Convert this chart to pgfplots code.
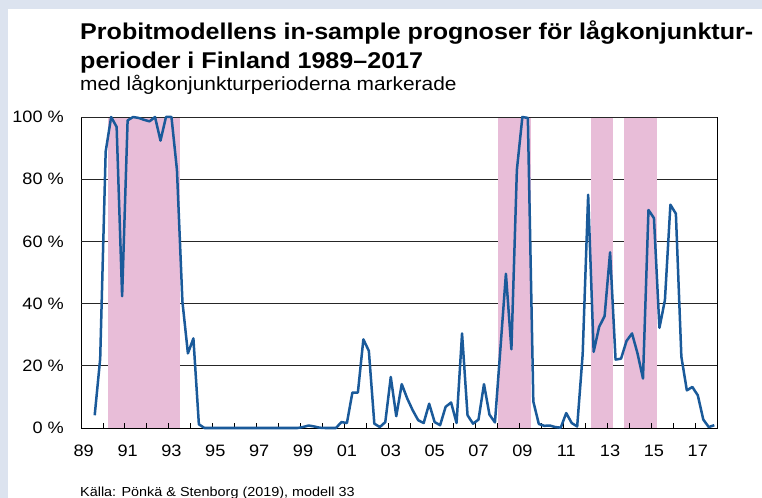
\documentclass[border=0pt]{standalone}
\usepackage{fontspec}
\setmainfont{Liberation Sans}[FakeStretch=1.1]
\usepackage{pgfplots}
\pgfplotsset{compat=1.18}
\definecolor{bgblue}{HTML}{DCE3EF}
\definecolor{regpink}{HTML}{E8BDD8}
\definecolor{lineblue}{HTML}{1A5A9A}
\begin{document}
\begin{tikzpicture}
\path[use as bounding box] (0bp,0bp) rectangle (762bp,498bp);
\fill[bgblue] (0bp,0bp) rectangle (762bp,498bp);
\fill[white] (8bp,0bp) rectangle (762bp,489bp);
\node[anchor=base west,inner sep=0pt,font=\fontsize{22.8bp}{28bp}\selectfont\bfseries] at (80bp,458.7bp) {Probitmodellens in-sample prognoser för lågkonjunktur-};
\node[anchor=base west,inner sep=0pt,font=\fontsize{22.8bp}{28bp}\selectfont\bfseries] at (80bp,429.7bp) {perioder i Finland 1989–2017};
\node[anchor=base west,inner sep=0pt,font=\fontsize{19bp}{23bp}\selectfont] at (80bp,407.3bp) {med lågkonjunkturperioderna markerade};
\node[anchor=base west,inner sep=0pt,font=\fontsize{13.1bp}{16bp}\selectfont] at (80bp,1.5bp) {Källa: Pönkä \& Stenborg (2019), modell 33};
\begin{axis}[
  at={(81bp,70bp)}, anchor=south west,
  scale only axis, width=636bp, height=311bp,
  xmin=1989, xmax=2018, ymin=0, ymax=100,
  clip=false,
  axis line style={black, line width=0.8bp},
  tick pos=left,
  xtick={1989.125,1991.125,1993.125,1995.125,1997.125,1999.125,2001.125,2003.125,2005.125,2007.125,2009.125,2011.125,2013.125,2015.125,2017.125},
  xticklabels={89,91,93,95,97,99,01,03,05,07,09,11,13,15,17},
  ytick={0,20,40,60,80,100},
  yticklabels={0 \%,20 \%,40 \%,60 \%,80 \%,100 \%},
  major tick length=0pt,
  /pgf/number format/assume math mode=true,
  ticklabel style={font=\fontsize{16.5bp}{19bp}\selectfont, inner sep=0pt},
  xticklabel style={yshift=-17bp},
  yticklabel style={xshift=-17bp},
]
% grid lines
\addplot[black!85, line width=0.8bp, unbounded coords=jump] table {
x y
1989 20
2018 20
nan nan
1989 40
2018 40
nan nan
1989 60
2018 60
nan nan
1989 80
2018 80
};
% recession periods
\addplot[fill=regpink, draw=none] coordinates {(1990.25,0.15) (1990.25,99.85) (1993.5,99.85) (1993.5,0.15)} -- cycle;
\addplot[fill=regpink, draw=none] coordinates {(2008.0,0.15) (2008.0,99.85) (2009.5,99.85) (2009.5,0.15)} -- cycle;
\addplot[fill=regpink, draw=none] coordinates {(2012.25,0.15) (2012.25,99.85) (2013.25,99.85) (2013.25,0.15)} -- cycle;
\addplot[fill=regpink, draw=none] coordinates {(2013.75,0.15) (2013.75,99.85) (2015.25,99.85) (2015.25,0.15)} -- cycle;
% year tick marks (inside)
\addplot[black, line width=0.8bp, unbounded coords=jump] table {
x y
1990 0
1990 1.7
nan nan
1991 0
1991 1.7
nan nan
1992 0
1992 1.7
nan nan
1993 0
1993 1.7
nan nan
1994 0
1994 1.7
nan nan
1995 0
1995 1.7
nan nan
1996 0
1996 1.7
nan nan
1997 0
1997 1.7
nan nan
1998 0
1998 1.7
nan nan
1999 0
1999 1.7
nan nan
2000 0
2000 1.7
nan nan
2001 0
2001 1.7
nan nan
2002 0
2002 1.7
nan nan
2003 0
2003 1.7
nan nan
2004 0
2004 1.7
nan nan
2005 0
2005 1.7
nan nan
2006 0
2006 1.7
nan nan
2007 0
2007 1.7
nan nan
2008 0
2008 1.7
nan nan
2009 0
2009 1.7
nan nan
2010 0
2010 1.7
nan nan
2011 0
2011 1.7
nan nan
2012 0
2012 1.7
nan nan
2013 0
2013 1.7
nan nan
2014 0
2014 1.7
nan nan
2015 0
2015 1.7
nan nan
2016 0
2016 1.7
nan nan
2017 0
2017 1.7
};
% top border over pink
\addplot[black!85, line width=0.8bp] coordinates {(1989,100) (2018,100)};
\addplot[lineblue, line width=2.5bp, line join=round, no markers] table {
x y
1989.625 4.1
1989.875 22.3
1990.125 88.9
1990.375 100
1990.625 96.8
1990.875 42.4
1991.125 98.9
1991.375 100
1991.625 99.7
1991.875 99.1
1992.125 98.6
1992.375 100
1992.625 92.4
1992.875 100
1993.125 100
1993.375 83
1993.625 40.6
1993.875 24
1994.125 28.8
1994.375 1.2
1994.625 0
1994.875 0
1995.125 0
1995.375 0
1995.625 0
1995.875 0
1996.125 0
1996.375 0
1996.625 0
1996.875 0
1997.125 0
1997.375 0
1997.625 0
1997.875 0
1998.125 0
1998.375 0
1998.625 0
1998.875 0
1999.125 0.3
1999.375 0.8
1999.625 0.5
1999.875 0.1
2000.125 0
2000.375 0
2000.625 0
2000.875 1.9
2001.125 1.6
2001.375 11.4
2001.625 11.4
2001.875 28.5
2002.125 24.8
2002.375 1.4
2002.625 0.3
2002.875 1.9
2003.125 16.4
2003.375 3.8
2003.625 14.1
2003.875 9.5
2004.125 5.7
2004.375 2.5
2004.625 1.6
2004.875 7.8
2005.125 1.9
2005.375 0.9
2005.625 6.8
2005.875 8.2
2006.125 1.6
2006.375 30.4
2006.625 4.1
2006.875 1.4
2007.125 2.7
2007.375 14.1
2007.625 4.3
2007.875 1.8
2008.125 25.6
2008.375 49.6
2008.625 25.3
2008.875 83
2009.125 100
2009.375 99.7
2009.625 8.5
2009.875 1.3
2010.125 0.7
2010.375 0.8
2010.625 0.3
2010.875 0.1
2011.125 4.8
2011.375 1.6
2011.625 0.5
2011.875 23.7
2012.125 75
2012.375 24.5
2012.625 32.5
2012.875 36
2013.125 56.5
2013.375 22
2013.625 22.3
2013.875 28
2014.125 30.4
2014.375 24
2014.625 15.9
2014.875 70.1
2015.125 67.5
2015.375 32.2
2015.625 41.1
2015.875 71.8
2016.125 68.9
2016.375 22.9
2016.625 12.1
2016.875 13.2
2017.125 10.5
2017.375 2.7
2017.625 0.3
2017.875 0.9
};
\end{axis}
\end{tikzpicture}
\end{document}
